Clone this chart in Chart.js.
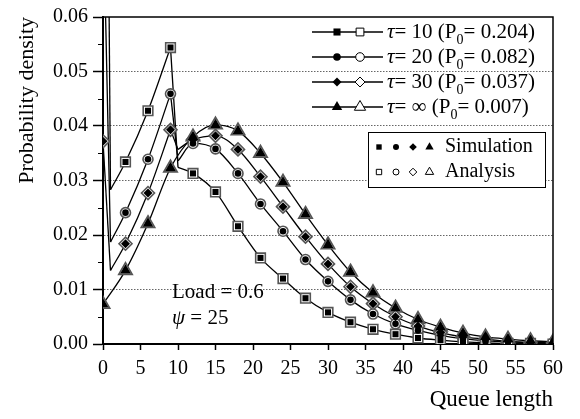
<!DOCTYPE html>
<html>
<head>
<meta charset="utf-8">
<script src="https://cdn.jsdelivr.net/npm/chart.js@4.4.0/dist/chart.umd.min.js"></script>
<style>
  body { margin: 0; background: #fff; }
  #wrap { width: 580px; height: 419px; }
</style>
</head>
<body>
<div id="wrap"><canvas id="chart" width="580" height="419"></canvas></div>
<script>
// Queue lengths where the analysis curves are read (kinks at 1, 9 and 10)
const queueX = [0, 1, 3, 6, 9, 10, 12, 15, 18, 21, 24, 27, 30, 33, 36, 39, 42, 45, 48, 51, 54, 57, 60];

// Probability density per tau
const tau10 = [0.204, 0.0283, 0.0334, 0.0428, 0.0544, 0.0324, 0.0313, 0.0279, 0.0216, 0.0158, 0.0120, 0.0084, 0.0058, 0.0040, 0.0027, 0.0018, 0.0011, 0.0007, 0.0004, 0.0002, 0.0001, 0.0001, 0.0000];
const tau20 = [0.082, 0.0187, 0.0241, 0.0339, 0.0459, 0.0336, 0.0368, 0.0358, 0.0313, 0.0257, 0.0207, 0.0155, 0.0115, 0.0081, 0.0055, 0.0037, 0.0025, 0.0016, 0.0010, 0.0006, 0.0004, 0.0002, 0.0001];
const tau30 = [0.0372, 0.0135, 0.0184, 0.0277, 0.0393, 0.0357, 0.0375, 0.0382, 0.0357, 0.0307, 0.0252, 0.0197, 0.0147, 0.0105, 0.0074, 0.0050, 0.0033, 0.0021, 0.0013, 0.0009, 0.0005, 0.0003, 0.0002];
const tauInf = [0.0073, null, 0.0135, 0.0221, 0.0323, null, 0.0380, 0.0402, 0.0391, 0.0350, 0.0297, 0.0238, 0.0182, 0.0132, 0.0094, 0.0066, 0.0045, 0.0031, 0.0020, 0.0013, 0.0009, 0.0006, 0.0004];

// queue lengths where a curve has a sharp corner
const kinks = [[1, 9, 10], [1, 9, 10], [1, 9, 10], []];

const tauLabels = ["10", "20", "30", "\u221E"];
const p0Labels = ["0.204", "0.082", "0.037", "0.007"];
const xTicks = { min: 0, max: 60, step: 5 };
const yTicks = { min: 0, max: 0.06, step: 0.01 };

const FONT = '"Liberation Serif", "Times New Roman", serif';
const shapes = ["rect", "circle", "rectRot", "triangle"];
const hollowRadius = { rect: 6.8, circle: 5, rectRot: 6.5, triangle: 7.8 };
const filledRadius = { rect: 4.3, circle: 3.3, rectRot: 4.5, triangle: 6.2 };

const series = [tau10, tau20, tau30, tauInf];

const datasets = [];
series.forEach((vals, i) => {
  const shape = shapes[i];
  const pts = queueX.map((x, j) => ({ x, y: vals[j] })).filter((p) => p.y !== null);

  // analysis curve, split at the corners so they stay sharp
  let piece = [];
  pts.forEach((p) => {
    piece.push(p);
    if (kinks[i].includes(p.x)) {
      datasets.push(curve(piece));
      piece = [p];
    }
  });
  if (piece.length > 1) datasets.push(curve(piece));

  const marks = pts.filter((p) => p.x % 3 === 0);
  // analysis markers (hollow)
  datasets.push({
    data: marks,
    showLine: false,
    pointStyle: shape,
    pointRadius: hollowRadius[shape],
    pointBackgroundColor: "#fff",
    pointBorderColor: "#555",
    pointBorderWidth: 1.6,
    order: 2,
  });
  // simulation markers (filled)
  datasets.push({
    data: marks,
    showLine: false,
    pointStyle: shape,
    pointRadius: filledRadius[shape],
    pointBackgroundColor: "#000",
    pointBorderColor: "#000",
    pointBorderWidth: 0,
    order: 1,
  });
});

function curve(data) {
  return {
    data,
    showLine: true,
    cubicInterpolationMode: "monotone",
    borderColor: "#000",
    borderWidth: 1.3,
    pointRadius: 0,
    order: 3,
  };
}

function drawShape(ctx, shape, x, y, r, filled) {
  ctx.beginPath();
  if (shape === "rect") {
    const h = r * Math.SQRT1_2;
    ctx.rect(x - h, y - h, 2 * h, 2 * h);
  } else if (shape === "circle") {
    ctx.arc(x, y, r, 0, Math.PI * 2);
  } else if (shape === "rectRot") {
    ctx.moveTo(x, y - r); ctx.lineTo(x + r, y); ctx.lineTo(x, y + r); ctx.lineTo(x - r, y); ctx.closePath();
  } else {
    ctx.moveTo(x, y - r); ctx.lineTo(x + r * 0.866, y + r * 0.5); ctx.lineTo(x - r * 0.866, y + r * 0.5); ctx.closePath();
  }
  if (filled) {
    ctx.fillStyle = "#000";
    ctx.fill();
  } else {
    ctx.fillStyle = "#fff";
    ctx.fill();
    ctx.strokeStyle = "#000";
    ctx.lineWidth = 1;
    ctx.stroke();
  }
}

// Frame, minor ticks, legends and the annotation
const extras = {
  id: "extras",
  afterDraw(chart) {
    const { ctx, chartArea: a, scales } = chart;
    ctx.save();

    // top and right frame
    ctx.strokeStyle = "#000";
    ctx.lineWidth = 1.5;
    ctx.beginPath();
    ctx.moveTo(a.left, a.top); ctx.lineTo(a.right, a.top); ctx.lineTo(a.right, a.bottom);
    ctx.stroke();

    // minor ticks on y
    ctx.lineWidth = 1;
    for (let v = yTicks.min + yTicks.step / 2; v < yTicks.max; v += yTicks.step) {
      const y = Math.round(scales.y.getPixelForValue(v)) + 0.5;
      ctx.beginPath(); ctx.moveTo(a.left - 5, y); ctx.lineTo(a.left, y); ctx.stroke();
    }

    // tau legend
    const legX0 = 312, legX1 = 383, textX = 387;
    ctx.textBaseline = "middle";
    ctx.textAlign = "left";
    tauLabels.forEach((t, i) => {
      const y = 32 + i * 25;
      ctx.strokeStyle = "#000";
      ctx.lineWidth = 1.3;
      ctx.beginPath(); ctx.moveTo(legX0, y); ctx.lineTo(legX1, y); ctx.stroke();
      const lr = { rect: 5, circle: 3.8, rectRot: 4.5, triangle: 6 }[shapes[i]];
      drawShape(ctx, shapes[i], 337, y, lr, true);
      drawShape(ctx, shapes[i], 360, y, lr + 0.5, false);

      let x = textX;
      ctx.fillStyle = "#000";
      ctx.font = "italic 21px " + FONT;
      ctx.fillText("\u03C4", x, y); x += ctx.measureText("\u03C4").width;
      ctx.font = "21px " + FONT;
      let s = "= " + t + " (P";
      ctx.fillText(s, x, y); x += ctx.measureText(s).width;
      ctx.font = "14px " + FONT;
      ctx.fillText("0", x, y + 8); x += ctx.measureText("0").width;
      ctx.font = "21px " + FONT;
      ctx.fillText("= " + p0Labels[i] + ")", x, y);
    });

    // simulation / analysis box
    ctx.fillStyle = "#fff";
    ctx.fillRect(368, 132, 177, 55);
    ctx.strokeStyle = "#000";
    ctx.lineWidth = 1;
    ctx.strokeRect(368.5, 132.5, 177, 55);
    const boxX = [379, 396, 413, 429.5];
    const boxR = { rect: 3.8, circle: 3, rectRot: 3.8, triangle: 4.8 };
    shapes.forEach((sh, i) => {
      drawShape(ctx, sh, boxX[i], 147, boxR[sh], true);
      drawShape(ctx, sh, boxX[i], 172, boxR[sh], false);
    });
    ctx.fillStyle = "#000";
    ctx.font = "20px " + FONT;
    ctx.fillText("Simulation", 445, 147);
    ctx.fillText("Analysis", 445, 172);

    // annotation
    const ax = scales.x.getPixelForValue(9.2);
    ctx.font = "21px " + FONT;
    ctx.fillText("Load = 0.6", ax, scales.y.getPixelForValue(0.0095));
    const py = scales.y.getPixelForValue(0.0047);
    ctx.font = "italic 21px " + FONT;
    ctx.fillText("\u03C8", ax, py);
    const w = ctx.measureText("\u03C8").width;
    ctx.font = "21px " + FONT;
    ctx.fillText(" = 25", ax + w, py);

    ctx.restore();
  },
};

new Chart(document.getElementById("chart"), {
  type: "scatter",
  data: { datasets },
  options: {
    responsive: false,
    animation: false,
    events: [],
    layout: { padding: { top: 8, right: 27, left: 0, bottom: 0 } },
    plugins: { legend: { display: false }, tooltip: { enabled: false } },
    scales: {
      x: {
        type: "linear",
        min: xTicks.min,
        max: xTicks.max,
        ticks: { stepSize: xTicks.step, color: "#000", font: { family: FONT, size: 20 }, padding: 7, maxRotation: 0 },
        grid: { drawOnChartArea: false, tickLength: 6, tickColor: "#000", tickWidth: 1.5 },
        border: { color: "#000", width: 2 },
        title: {
          display: true, text: "Queue length", align: "end", color: "#000",
          font: { family: FONT, size: 23 }, padding: { top: 0, bottom: 5 },
        },
        afterFit: (s) => { s.height = 75; },
      },
      y: {
        type: "linear",
        min: yTicks.min,
        max: yTicks.max,
        ticks: {
          stepSize: yTicks.step, color: "#000", font: { family: FONT, size: 20 }, padding: 5,
          callback: (v) => v.toFixed(2),
        },
        grid: {
          color: (c) => (c.tick && c.tick.value > 0.001 && c.tick.value < 0.059 ? "#666" : "rgba(0,0,0,0)"),
          lineWidth: 1,
          tickLength: 10,
          tickColor: "#000",
          tickWidth: 1.5,
          tickBorderDash: [],
        },
        border: { color: "#000", width: 2, dash: [1.5, 1.5] },
        title: {
          display: true, text: "Probability density", align: "end", color: "#000",
          font: { family: FONT, size: 22 }, padding: { top: 14, bottom: 0 },
        },
        afterFit: (s) => { s.width = 103; },
      },
    },
  },
  plugins: [extras],
});
</script>
</body>
</html>
